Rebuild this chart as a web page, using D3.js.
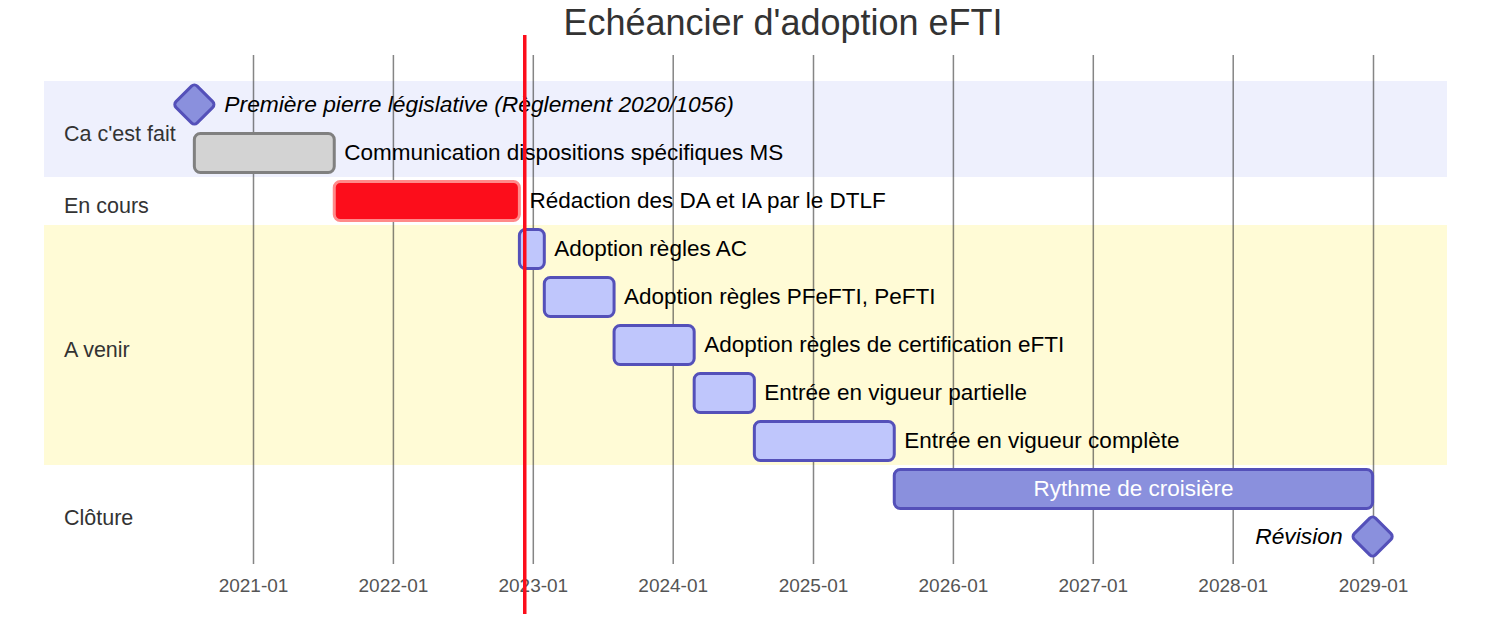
<!DOCTYPE html>
<html><head><meta charset="utf-8">
<script src="https://cdn.jsdelivr.net/npm/d3@7"></script>
<style>
html,body{margin:0;padding:0;background:#fff;}
svg{display:block;font-family:"Trebuchet MS","Liberation Sans",Arial,sans-serif;}
</style></head>
<body><svg id="chart" width="1488" height="624"></svg>
<script>
const title = "Echéancier d'adoption eFTI";
const sections = ["Ca c'est fait", "En cours", "A venir", "Clôture"];
const taskNames = [
  "Première pierre législative (Règlement 2020/1056)",
  "Communication dispositions spécifiques MS",
  "Rédaction des DA et IA par le DTLF",
  "Adoption règles AC",
  "Adoption règles PFeFTI, PeFTI",
  "Adoption règles de certification eFTI",
  "Entrée en vigueur partielle",
  "Entrée en vigueur complète",
  "Rythme de croisière",
  "Révision"
];
const taskSection = [0, 0, 1, 2, 2, 2, 2, 2, 3, 3];
const taskStart = ["2020-08-01","2020-08-01","2021-08-01","2022-11-27","2023-01-31","2023-08-01","2024-02-26","2024-08-01","2025-08-01","2028-12-31"];
const taskEnd   = ["2020-08-01","2021-08-01","2022-11-27","2023-01-31","2023-08-01","2024-02-26","2024-08-01","2025-08-01","2028-12-31","2028-12-31"];
const taskType  = ["milestone","done","crit","active","active","active","active","active","normal","milestone"];
const tickLabels = ["2021-01","2022-01","2023-01","2024-01","2025-01","2026-01","2027-01","2028-01","2029-01"];
const todayDate = "2022-12-11";

const parse = d3.utcParse("%Y-%m-%d");
const parseTick = d3.utcParse("%Y-%m");
const svg = d3.select("#chart");

const x = d3.scaleUtc().domain([parseTick("2021-01"), parseTick("2029-01")]).range([253, 1373]);
const top0 = 81, rowH = 48;
const rowTop = i => top0 + i * rowH;

const styles = {
  done:   {fill:"#d3d3d3", stroke:"#808080"},
  crit:   {fill:"#fc0d1b", stroke:"#ff8a8a"},
  active: {fill:"#bfc6fc", stroke:"#5450b9"},
  normal: {fill:"#8a90dd", stroke:"#5450b9"},
  milestone: {fill:"#8a90dd", stroke:"#5450b9"}
};
const bandColors = ["#eef0fd", "#ffffff", "#fffbd6", "#ffffff"];

// section bands
const secRows = sections.map((s, si) => {
  const idx = taskSection.map((v, i) => v === si ? i : -1).filter(i => i >= 0);
  return {name: s, first: d3.min(idx), last: d3.max(idx), si};
});
svg.append("g").selectAll("rect").data(secRows).join("rect")
  .attr("x", 44).attr("width", 1447 - 44)
  .attr("y", d => rowTop(d.first))
  .attr("height", d => (d.last - d.first + 1) * rowH)
  .attr("fill", d => bandColors[d.si]);

// grid / axis
const gridTop = 55, gridBottom = 564;
const axis = d3.axisBottom(x)
  .tickValues(tickLabels.map(parseTick))
  .tickSize(-(gridBottom - gridTop))
  .tickFormat(d3.utcFormat("%Y-%m"));
const gAxis = svg.append("g").attr("transform", `translate(0,${gridBottom})`).call(axis);
gAxis.select(".domain").remove();
gAxis.selectAll(".tick line").attr("stroke", "#333").attr("stroke-opacity", 0.6).attr("stroke-width", 1.5);
gAxis.selectAll(".tick text").attr("y", 28).attr("dy", 0)
  .attr("fill", "#555").attr("font-size", 19)
  .attr("font-family", "\"Trebuchet MS\",\"Liberation Sans\",Arial,sans-serif");

// section labels
svg.append("g").selectAll("text").data(secRows).join("text")
  .attr("x", 64)
  .attr("y", d => (rowTop(d.first) + rowTop(d.last + 1)) / 2 + 12)
  .attr("fill", "#333").attr("font-size", 21.5)
  .text(d => d.name);

// tasks
const tasks = taskNames.map((n, i) => ({
  name: n, i, type: taskType[i], s: parse(taskStart[i]), e: parse(taskEnd[i])
}));
const gTasks = svg.append("g");
tasks.forEach(t => {
  const st = styles[t.type];
  const cy = rowTop(t.i) + 24;
  if (t.type === "milestone") {
    const cx = x(t.s), side = 30;
    gTasks.append("rect")
      .attr("x", cx - side / 2).attr("y", cy - 0.5 - side / 2)
      .attr("width", side).attr("height", side).attr("rx", 4)
      .attr("transform", `rotate(45 ${cx} ${cy - 0.5})`)
      .attr("fill", st.fill).attr("stroke", st.stroke).attr("stroke-width", 3);
    const rightSide = x(t.s) + 300 < 1447;
    gTasks.append("text")
      .attr("x", rightSide ? cx + 30 : cx - 30)
      .attr("y", cy + 7)
      .attr("text-anchor", rightSide ? "start" : "end")
      .attr("font-style", "italic").attr("font-size", 22.8).attr("fill", "#000")
      .text(t.name);
  } else {
    const x0 = x(t.s), x1 = x(t.e);
    gTasks.append("rect")
      .attr("x", x0).attr("y", rowTop(t.i) + 4.5)
      .attr("width", x1 - x0).attr("height", 39).attr("rx", 6)
      .attr("fill", st.fill).attr("stroke", st.stroke).attr("stroke-width", 3);
    const label = gTasks.append("text").attr("y", cy + 7)
      .attr("font-size", 22.5).text(t.name);
    if (t.type === "normal") {
      label.attr("x", (x0 + x1) / 2).attr("text-anchor", "middle").attr("fill", "#fff");
    } else {
      label.attr("x", x1 + 10).attr("fill", "#000");
    }
  }
});

// today line
svg.append("line")
  .attr("x1", x(parse(todayDate))).attr("x2", x(parse(todayDate)))
  .attr("y1", 35).attr("y2", 614)
  .attr("stroke", "#fc0d1b").attr("stroke-width", 3.5);

// title
svg.append("text").attr("x", 783).attr("y", 35)
  .attr("text-anchor", "middle").attr("font-size", 36).attr("fill", "#333")
  .text(title);
</script>
</body></html>
